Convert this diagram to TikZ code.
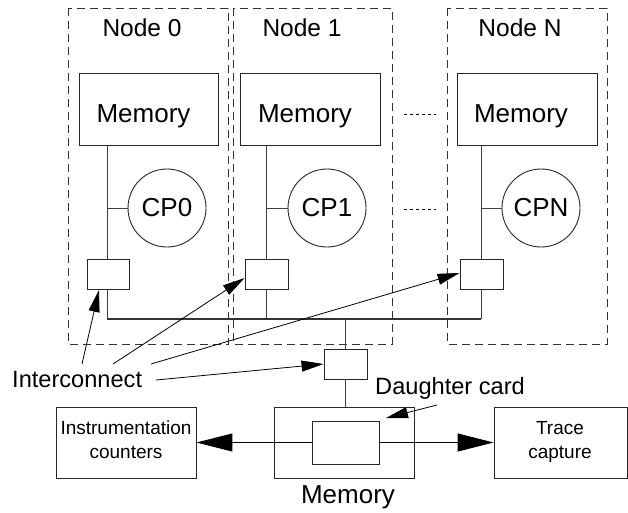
\documentclass[tikz,border=0pt]{standalone}
\usepackage{fontspec}
\setmainfont{Liberation Sans}
\usetikzlibrary{arrows.meta,calc}
\begin{document}
\begin{tikzpicture}[x=1pt,y=-1pt,
  box/.style={draw=black!85,line width=0.9pt,rectangle,inner sep=0pt},
  dbox/.style={draw=black!80,line width=0.9pt,dash pattern=on 8pt off 5pt},
  cpu/.style={draw=black!85,line width=0.9pt,circle,minimum size=78pt,inner sep=0pt,font=\fontsize{26}{30}\selectfont},
  wire/.style={draw=black!75,line width=1pt},
  bus/.style={draw=black!80,line width=1.4pt},
  dots/.style={draw=black,line width=0.8pt,dash pattern=on 3pt off 3pt},
  t26/.style={font=\fontsize{26}{30}\selectfont,inner sep=0pt,anchor=base},
  t25/.style={font=\fontsize{24.5}{29}\selectfont,inner sep=0pt,anchor=base},
  t24/.style={font=\fontsize{23.6}{28}\selectfont,inner sep=0pt,anchor=base},
  t19/.style={font=\fontsize{19}{26}\selectfont,inner sep=0pt,anchor=base},
  sarrow/.style={draw=black,line width=0.8pt,-{Triangle[length=22pt,width=11pt]}},
  barrow/.style={draw=black,line width=1pt,-{Triangle[length=36pt,width=18pt]}}
]
\useasboundingbox (0,0) rectangle (628,512);

% dashed node frames
\draw[dbox] (68,8) rectangle (228,344);
\draw[dbox] (233,8) rectangle (392,344);
\draw[dbox] (447,8) rectangle (607,344);
\node[t25] (n0) at (142,36) {Node 0};
\node[t25] (n1) at (302,36) {Node 1};
\node[t25] (nN) at (520,36) {Node N};

% memories
\node[box,minimum width=139pt,minimum height=72pt] (m0) at (148.5,109) {};
\node[box,minimum width=140pt,minimum height=72pt] (m1) at (310,109) {};
\node[box,minimum width=140pt,minimum height=72pt] (mN) at (527,109) {};
\node[t26] (m0t) at (143.5,122) {Memory};
\node[t26] (m1t) at (305,122) {Memory};
\node[t26] (mNt) at (521,122) {Memory};

% processors
\node[cpu] (c0) at (167,208) {CP0};
\node[cpu] (c1) at (327,208) {CP1};
\node[cpu] (cN) at (541,208) {CPN};

% small interconnect boxes
\node[box,minimum width=42pt,minimum height=30pt] (s0) at (108,274) {};
\node[box,minimum width=43pt,minimum height=30pt] (s1) at (266.5,274) {};
\node[box,minimum width=43pt,minimum height=30pt] (sN) at (481.5,274) {};
\node[box,minimum width=43pt,minimum height=30pt] (sc) at (345.5,364) {};

% vertical node lines
\coordinate (b0) at (107,319);
\coordinate (b1) at (266,319);
\coordinate (bN) at (481,319);
\coordinate (bc) at (345,319);
\draw[wire] (m0.south -| b0) -- (s0.north -| b0);
\draw[wire] (m1.south -| b1) -- (s1.north -| b1);
\draw[wire] (mN.south -| bN) -- (sN.north -| bN);
\draw[wire] (c0.west) -- (c0.west -| b0);
\draw[wire] (c1.west) -- (c1.west -| b1);
\draw[wire] (cN.west) -- (cN.west -| bN);
\draw[wire] (s0.south -| b0) -- (b0);
\draw[wire] (s1.south -| b1) -- (b1);
\draw[wire] (sN.south -| bN) -- (bN);
\draw[bus] (b0) -- (bN);
\draw[wire] (bc) -- (sc.north -| bc);

% dotted continuation
\draw[dots] (404,114) -- (436,114);
\draw[dots] (404,209) -- (436,209);

% bottom part
\node[box,minimum width=140pt,minimum height=71pt] (mem) at (344,442.5) {};
\node[box,minimum width=67pt,minimum height=43pt] (dc) at (345.5,442.5) {};
\node[box,minimum width=140pt,minimum height=71pt] (ins) at (126,442.5) {};
\node[box,minimum width=133pt,minimum height=71pt] (tr) at (560.5,442.5) {};
\draw[wire] (sc.south -| bc) -- (mem.north -| bc);

\node[t19] (inst1) at (126,434) {Instrumentation};
\node[t19] (inst2) at (126,458) {counters};
\node[t19] (tr1) at (560,434) {Trace};
\node[t19] (tr2) at (560,458) {capture};
\node[t26] (memt) at (348,503) {Memory};

\draw[barrow] (dc.west) -- (ins.east);
\draw[barrow] (dc.east) -- (tr.west);

% labels with arrows
\node[t24,anchor=base west] (ic) at (12,387) {Interconnect};
\node[t24] (dct) at (450,394) {Daughter card};

\coordinate (i1) at (82,364);
\coordinate (i2) at (113,364);
\coordinate (i3) at (151,364);
\coordinate (i4) at (156,380);
\draw[sarrow] (i1) -- (99,290);
\draw[sarrow] (i2) -- (s1.west |- 0,278);
\draw[sarrow] (i3) -- (sN.west |- 0,273);
\draw[sarrow] (i4) -- (sc.west);
\coordinate (d1) at (437,405);
\draw[sarrow] (d1) -- (386,418);
\end{tikzpicture}
\end{document}
